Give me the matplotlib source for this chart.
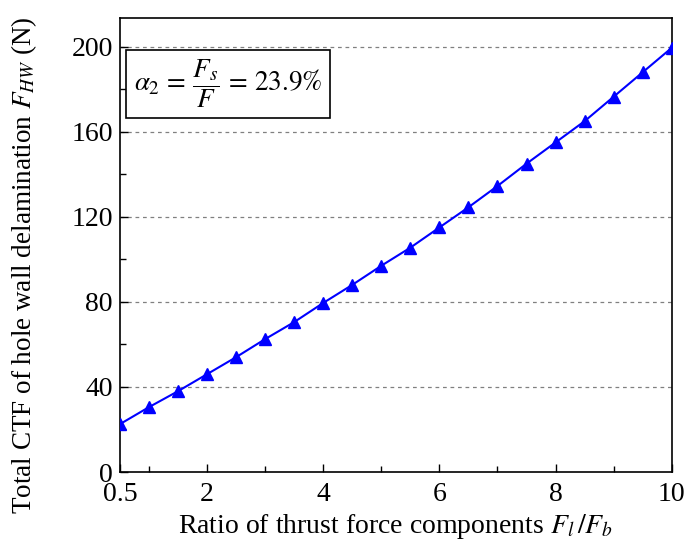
import numpy as np
import matplotlib
matplotlib.use('Agg')
import matplotlib.pyplot as plt
from matplotlib.ticker import MultipleLocator, FixedLocator

plt.rcParams['font.family'] = ['Liberation Serif', 'DejaVu Serif']
plt.rcParams['mathtext.fontset'] = 'stix'

# thrust force ratio Fl/Fb and total CTF of hole wall delamination
ratio = [0.5, 1, 1.5, 2, 2.5, 3, 3.5, 4, 4.5, 5, 5.5, 6, 6.5, 7, 7.5, 8, 8.5, 9, 9.5, 10]
f_hw = [22.5, 30.5, 38, 46, 54, 62.5, 70.5, 79.5, 88, 97, 105.5, 115,
        124.5, 134.5, 145, 155, 165, 176.5, 188, 199.5]
xticks = [0.5, 2, 4, 6, 8, 10]
xtick_labels = ['0.5', '2', '4', '6', '8', '10']

fig = plt.figure(figsize=(6.89, 5.54), dpi=100)
ax = fig.add_axes([0.174, 0.148, 0.801, 0.8195])

ax.plot(ratio, f_hw, '-', color='#0000ff', lw=1.5, marker='^', ms=9,
        markerfacecolor='#0000ff', markeredgecolor='#0000ff', zorder=3)

ax.set_xlim(0.5, 10)
ax.set_ylim(0, 213.5)
ax.set_xticks(xticks)
ax.set_xticklabels(xtick_labels)
ax.xaxis.set_minor_locator(FixedLocator([1, 3, 5, 7, 9]))
ax.yaxis.set_major_locator(MultipleLocator(40))
ax.yaxis.set_minor_locator(MultipleLocator(20))
ax.tick_params(which='both', direction='in', top=False, right=False, labelsize=20)
ax.tick_params(which='major', length=6, width=1)
ax.tick_params(which='minor', length=4, width=1)
ax.tick_params(axis='x', pad=7)
ax.tick_params(axis='y', pad=5)

for s in ax.spines.values():
    s.set_linewidth(1.2)

for y in [40, 80, 120, 160, 200]:
    ax.axhline(y, color='#808080', ls=(0, (3, 3)), lw=0.9, zorder=1)

ax.set_xlabel('Ratio of thrust force components $F_l\\,/F_b$', fontsize=20, labelpad=4)
ax.set_ylabel('Total CTF of hole wall delamination $F_{HW}$ (N)', fontsize=19.5)
ax.yaxis.set_label_coords(-0.147, 0.455)

ax.text(0.025, 0.912, r'$\alpha_2\,=\,\dfrac{F_s}{F}\,=\,23.9\%$', transform=ax.transAxes,
        fontsize=19.5, va='top', ha='left',
        bbox=dict(boxstyle='square,pad=0.3', fc='white', ec='black', lw=1.2))

fig.savefig('out.png', dpi=100)
